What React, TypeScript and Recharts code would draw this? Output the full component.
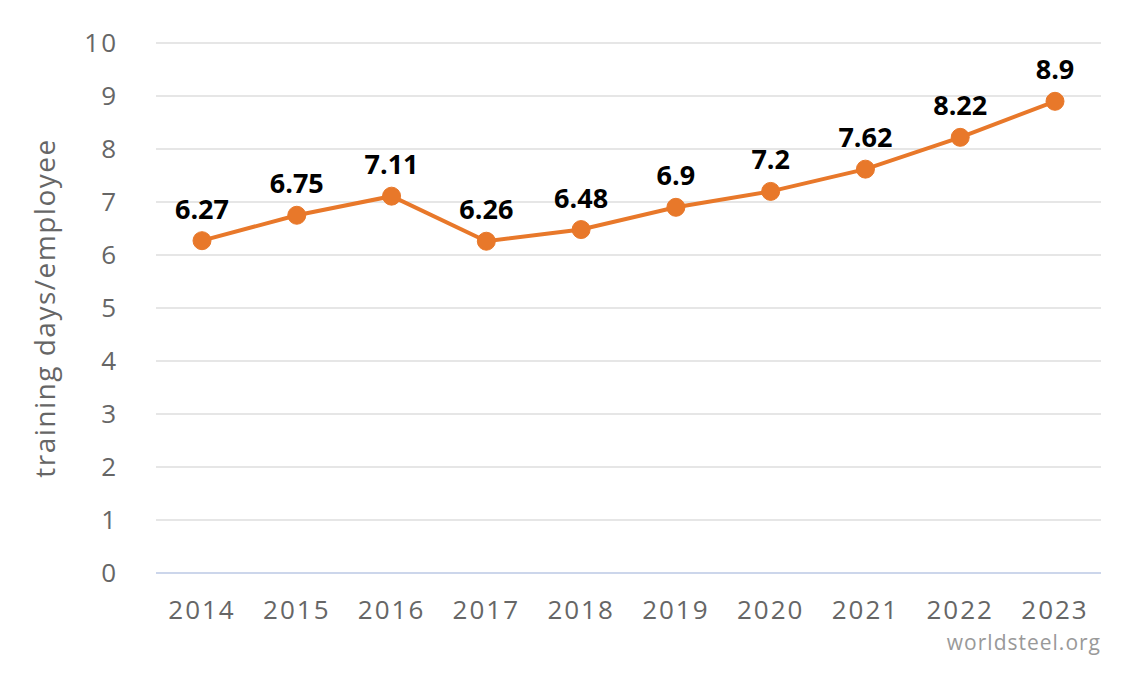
import React from 'react';
import { LineChart, Line, XAxis, YAxis, CartesianGrid, LabelList } from 'recharts';

const years = ['2014', '2015', '2016', '2017', '2018', '2019', '2020', '2021', '2022', '2023'];
const trainingDays = [6.27, 6.75, 7.11, 6.26, 6.48, 6.9, 7.2, 7.62, 8.22, 8.9];
const yTicks = [0, 1, 2, 3, 4, 5, 6, 7, 8, 9, 10];

const ORANGE = '#e8782a';
const FONT = '"Open Sans", "DejaVu Sans", sans-serif';

const chartData = years.map((year, i) => ({ year, value: trainingDays[i] }));

const App: React.FC = () => {
  return (
    <div style={{ position: 'absolute', left: 0, top: 0, width: 1126, height: 683, background: '#fff', fontFamily: FONT }}>
      <LineChart
        width={1126}
        height={683}
        data={chartData}
        margin={{ top: 43, right: 25, bottom: 50, left: 0 }}
      >
        <CartesianGrid vertical={false} stroke="#e6e6e6" strokeWidth={2} />
        <XAxis
          dataKey="year"
          height={60}
          padding={{ left: 46, right: 46 }}
          stroke="#ccd6eb"
          strokeWidth={2}
          tickLine={false}
          tickSize={0}
          tickMargin={28}
          tick={{ fill: '#666666', fontSize: 26, fontFamily: FONT, letterSpacing: 2 }}
        />
        <YAxis
          width={156}
          domain={[0, 10]}
          ticks={yTicks}
          axisLine={false}
          tickLine={false}
          tickSize={0}
          tickMargin={38}
          tick={{ fill: '#666666', fontSize: 26, fontFamily: FONT, letterSpacing: 2 }}
          label={{
            value: 'training days/employee',
            angle: -90,
            position: 'insideLeft',
            dx: 40,
            style: { fill: '#666666', fontSize: 28, fontFamily: FONT, letterSpacing: 1.5, textAnchor: 'middle' },
          }}
        />
        <Line
          type="linear"
          dataKey="value"
          stroke={ORANGE}
          strokeWidth={4}
          dot={{ r: 9, fill: ORANGE, stroke: ORANGE, strokeWidth: 1 }}
          activeDot={false}
          isAnimationActive={false}
        >
          <LabelList
            dataKey="value"
            position="top"
            offset={22}
            style={{ fill: '#000000', fontSize: 27, fontWeight: 700, fontFamily: FONT }}
          />
        </Line>
      </LineChart>
      <div
        style={{
          position: 'absolute',
          right: 25,
          top: 628,
          fontSize: 21,
          color: '#999999',
          fontFamily: FONT,
          letterSpacing: 1,
        }}
      >
        worldsteel.org
      </div>
    </div>
  );
};

export default App;
